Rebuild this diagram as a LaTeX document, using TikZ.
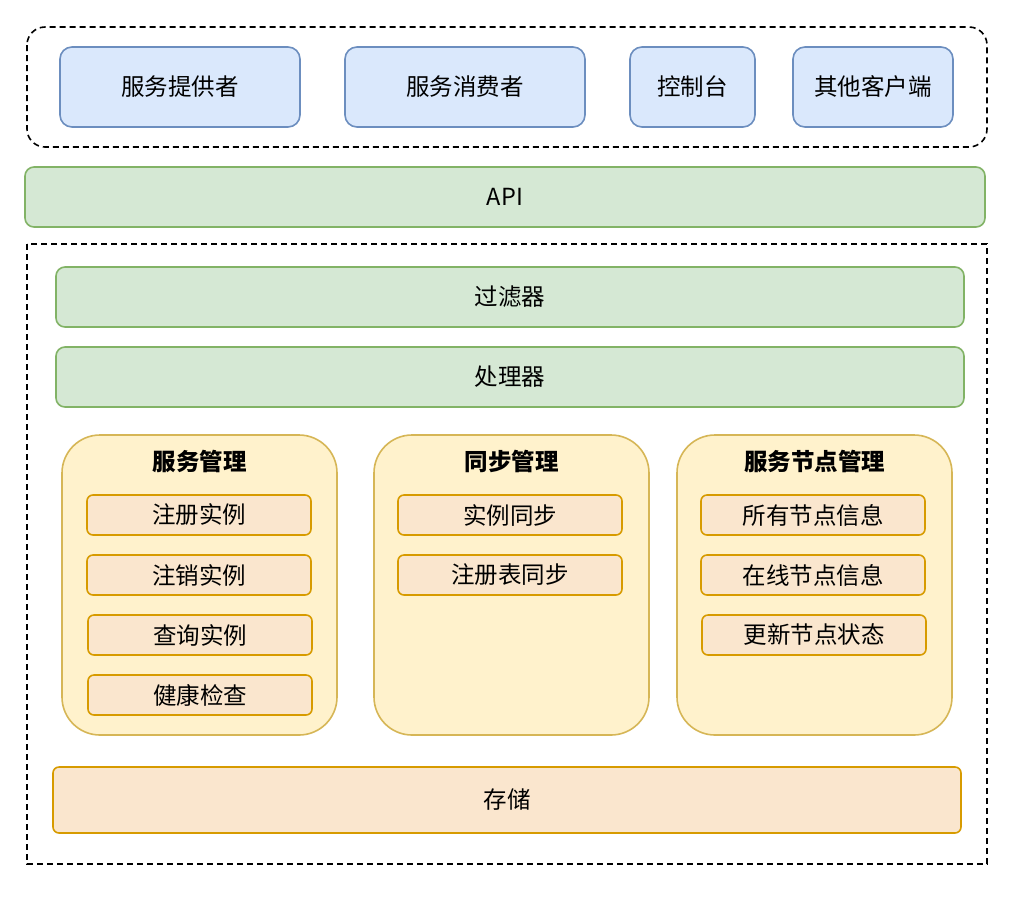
\documentclass[tikz,border=0pt]{standalone}
\usepackage{fontspec}
\setmainfont{Noto Sans CJK SC}
\usepackage{xcolor}
\definecolor{blueFill}{HTML}{DAE8FC}
\definecolor{blueLine}{HTML}{6C8EBF}
\definecolor{greenFill}{HTML}{D5E8D4}
\definecolor{greenLine}{HTML}{82B366}
\definecolor{yellowFill}{HTML}{FFF2CC}
\definecolor{yellowLine}{HTML}{D6B656}
\definecolor{orangeFill}{HTML}{FAE6CE}
\definecolor{orangeLine}{HTML}{D79B00}

\begin{document}
\begin{tikzpicture}[x=1pt,y=-1pt,
    every node/.style={font=\fontsize{23.5}{28}\selectfont, inner sep=0pt},
    client/.style={draw=blueLine, fill=blueFill, line width=1.6pt, rounded corners=12pt, minimum height=80pt},
    layer/.style={draw=greenLine, fill=greenFill, line width=1.6pt, rounded corners=9pt, minimum height=60pt},
    group/.style={draw=yellowLine, fill=yellowFill, line width=1.6pt, rounded corners=38pt, minimum width=275pt, minimum height=300pt},
    grouptitle/.style={font=\fontsize{23.5}{28}\selectfont\bfseries},
    item/.style={draw=orangeLine, fill=orangeFill, line width=1.6pt, rounded corners=6pt, minimum width=224pt, minimum height=40pt},
    dashbox/.style={draw=black, line width=1.6pt, dash pattern=on 6pt off 4pt}
]
    \useasboundingbox[fill=white] (0,0) rectangle (1014,898);

    % clienti
    \draw[dashbox, rounded corners=18pt] (27,27) rectangle (987,147);
    \node[client, minimum width=240pt] (provider) at (180,87) {服务提供者};
    \node[client, minimum width=240pt] (consumer) at (465,87) {服务消费者};
    \node[client, minimum width=125pt] (console) at (692.5,87) {控制台};
    \node[client, minimum width=160pt] (otherclient) at (873,87) {其他客户端};

    \node[layer, minimum width=960pt] (api) at (505,197) {API};

    % server
    \draw[dashbox] (27,244) rectangle (987,864);
    \node[layer, minimum width=908pt] (filter) at (510,297) {过滤器};
    \node[layer, minimum width=908pt] (handler) at (510,377) {处理器};

    \node[group] (svcmgmt) at (199.5,585) {};
    \node[grouptitle] (svctitle) at (199.5,461) {服务管理};
    \node[item] (register) at (199,515) {注册实例};
    \node[item] (deregister) at (199,575) {注销实例};
    \node[item] (query) at (200,635) {查询实例};
    \node[item] (health) at (200,695) {健康检查};

    \node[group] (syncmgmt) at (511.5,585) {};
    \node[grouptitle] (synctitle) at (511.5,461) {同步管理};
    \node[item] (instsync) at (510,515) {实例同步};
    \node[item] (regsync) at (510,575) {注册表同步};

    \node[group] (nodemgmt) at (814.5,585) {};
    \node[grouptitle] (nodetitle) at (814.5,461) {服务节点管理};
    \node[item] (allnodes) at (813,515) {所有节点信息};
    \node[item] (onlinenodes) at (813,575) {在线节点信息};
    \node[item] (updatenode) at (814,635) {更新节点状态};

    \node[item, minimum width=908pt, minimum height=66pt] (storage) at (507,800) {存储};
\end{tikzpicture}
\end{document}
